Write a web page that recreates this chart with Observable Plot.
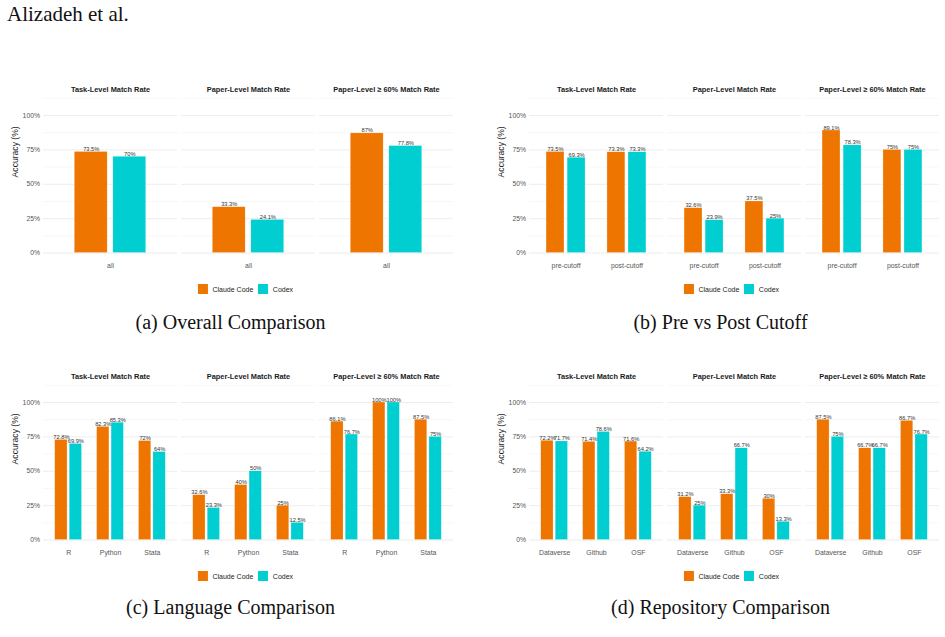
<!DOCTYPE html>
<html><head><meta charset="utf-8">
<script src="https://cdn.jsdelivr.net/npm/d3@7"></script>
<script src="https://cdn.jsdelivr.net/npm/@observablehq/plot@0.6"></script>
<style>
html,body{margin:0;padding:0;background:#fff}
body{width:945px;height:637px;overflow:hidden;position:relative;font-family:"Liberation Sans",Arial,sans-serif}
.abs{position:absolute}
.serif{font-family:"Liberation Serif","Times New Roman",serif;color:#111;white-space:nowrap}
.legend{display:flex;align-items:center;font-size:7px;color:#222;transform:translate(-50%,-50%);white-space:nowrap}
.sw{width:10px;height:10px;display:inline-block;margin-right:4.5px}
.lab{margin-right:5px}
</style></head><body>
<div class="abs serif" style="left:7px;top:4px;font-size:21px;line-height:21px">Alizadeh et al.</div>
<div id="root"></div>
<script>
// ---------- data ----------
const metrics = ["Task-Level Match Rate", "Paper-Level Match Rate", "Paper-Level \u2265 60% Match Rate"];
const models = ["Claude Code", "Codex"];
const modelColors = ["#EE7600", "#00CED1"];
const yTicks = [0, 25, 50, 75, 100];
const yMinorTicks = [12.5, 37.5, 62.5, 87.5, 112.5];

// (a) overall  — rows: metrics, cols: categories
const overallCats = ["all"];
const overallClaude = [[73.5], [33.3], [87]];
const overallCodex  = [[70], [24.1], [77.8]];

// (b) pre vs post cutoff
const cutoffCats = ["pre-cutoff", "post-cutoff"];
const cutoffClaude = [[73.5, 73.3], [32.6, 37.5], [89.1, 75]];
const cutoffCodex  = [[69.3, 73.3], [23.9, 25], [78.3, 75]];

// (c) language
const langCats = ["R", "Python", "Stata"];
const langClaude = [[72.8, 82.3, 72], [32.6, 40, 25], [86.1, 100, 87.5]];
const langCodex  = [[69.9, 85.3, 64], [23.3, 50, 12.5], [76.7, 100, 75]];

// (d) repository
const repoCats = ["Dataverse", "Github", "OSF"];
const repoClaude = [[72.2, 71.4, 71.6], [31.2, 33.3, 30], [87.5, 66.7, 86.7]];
const repoCodex  = [[71.7, 78.6, 64.2], [25, 66.7, 13.3], [75, 66.7, 76.7]];

const captions = ["(a) Overall Comparison", "(b) Pre vs Post Cutoff", "(c) Language Comparison", "(d) Repository Comparison"];

// ---------- layout ----------
const layout = [
  {cats: overallCats, claude: overallClaude, codex: overallCodex, left: 0,   top: 75,    width: 470, mL: 43, mR: 17, legX: 248, legY: 289, capX: 230.5, capTop: 312},
  {cats: cutoffCats,  claude: cutoffClaude,  codex: cutoffCodex,  left: 470, top: 75,    width: 475, mL: 59, mR: 6,  legX: 734, legY: 289, capX: 720.5, capTop: 312},
  {cats: langCats,    claude: langClaude,    codex: langCodex,    left: 0,   top: 361.5, width: 470, mL: 43, mR: 17, legX: 248, legY: 576, capX: 230.5, capTop: 597},
  {cats: repoCats,    claude: repoClaude,    codex: repoCodex,    left: 470, top: 361.5, width: 475, mL: 59, mR: 6,  legX: 734, legY: 576, capX: 720.5, capTop: 597}
];

const FW = 134, GAP = 4;
const root = document.getElementById("root");

layout.forEach((p, i) => {
  const rows = [];
  metrics.forEach((m, mi) => p.cats.forEach((c, ci) => {
    rows.push({metric: m, cat: c, model: models[0], value: p.claude[mi][ci]});
    rows.push({metric: m, cat: c, model: models[1], value: p.codex[mi][ci]});
  }));
  const n = p.cats.length;
  const step = FW / (n + 0.2);
  const bw = step * 0.64;
  const fmt = d => d + "%";
  const chart = Plot.plot({
    width: p.width, height: 200,
    marginLeft: p.mL, marginRight: p.mR, marginTop: 18.7, marginBottom: 14.9,
    style: {fontFamily: "Liberation Sans, Arial, sans-serif", background: "transparent"},
    fx: {domain: metrics, paddingInner: GAP / (FW + GAP), paddingOuter: 0, round: false, axis: null, label: null},
    x: {domain: p.cats, paddingInner: 0.36, paddingOuter: 0.28, round: false, axis: null, label: null},
    y: {domain: [-5.5, 115.5], axis: null, label: null},
    marks: [
      Plot.gridY(yMinorTicks, {stroke: "#EFEFEF", strokeOpacity: 1, strokeWidth: 0.5}),
      Plot.gridY(yTicks, {stroke: "#EBEBEB", strokeOpacity: 1, strokeWidth: 0.9}),
      Plot.barY(rows, {filter: d => d.model === models[0], fx: "metric", x: "cat", y: "value",
        fill: modelColors[0], insetRight: bw * 0.54, stroke: "white", strokeWidth: 0.4, strokeOpacity: 0.6}),
      Plot.barY(rows, {filter: d => d.model === models[1], fx: "metric", x: "cat", y: "value",
        fill: modelColors[1], insetLeft: bw * 0.54, stroke: "white", strokeWidth: 0.4, strokeOpacity: 0.6}),
      Plot.text(rows, {filter: d => d.model === models[0], fx: "metric", x: "cat", y: "value",
        text: d => fmt(d.value), dx: -bw * 0.27, dy: -1, lineAnchor: "bottom", fontSize: 5.7, fill: "#333"}),
      Plot.text(rows, {filter: d => d.model === models[1], fx: "metric", x: "cat", y: "value",
        text: d => fmt(d.value), dx: bw * 0.27, dy: -1, lineAnchor: "bottom", fontSize: 5.7, fill: "#333"}),
      Plot.axisY(yTicks, {tickFormat: fmt, tickSize: 0, tickPadding: 3.5, fontSize: 6.8, color: "#555", label: null, facetAnchor: "left"}),
      Plot.axisX({tickSize: 0, tickPadding: 2.5, fontSize: 6.9, color: "#555", label: null}),
      Plot.text(metrics, {fx: d => d, text: d => d, frameAnchor: "top", dy: -4.7, lineAnchor: "middle",
        fontWeight: "bold", fontSize: 7.4, fill: "#1a1a1a"}),
      Plot.text([metrics[0]], {fx: d => d, text: () => "Accuracy (%)", frameAnchor: "left", dx: -28, rotate: -90,
        fontSize: 8.6, fill: "#1a1a1a"})
    ]
  });
  const wrap = document.createElement("div");
  wrap.className = "abs";
  wrap.style.left = p.left + "px";
  wrap.style.top = p.top + "px";
  wrap.appendChild(chart);
  root.appendChild(wrap);

  const leg = document.createElement("div");
  leg.className = "abs legend";
  leg.style.left = p.legX + "px";
  leg.style.top = p.legY + "px";
  leg.innerHTML = models.map((m, k) =>
    `<span class="sw" style="background:${modelColors[k]}"></span><span class="lab">${m}</span>`).join("");
  root.appendChild(leg);

  const cap = document.createElement("div");
  cap.className = "abs serif";
  cap.style.cssText = `left:${p.capX}px;top:${p.capTop}px;font-size:20px;line-height:20px;transform:translateX(-50%)`;
  cap.textContent = captions[i];
  root.appendChild(cap);
});
</script>
</body></html>
